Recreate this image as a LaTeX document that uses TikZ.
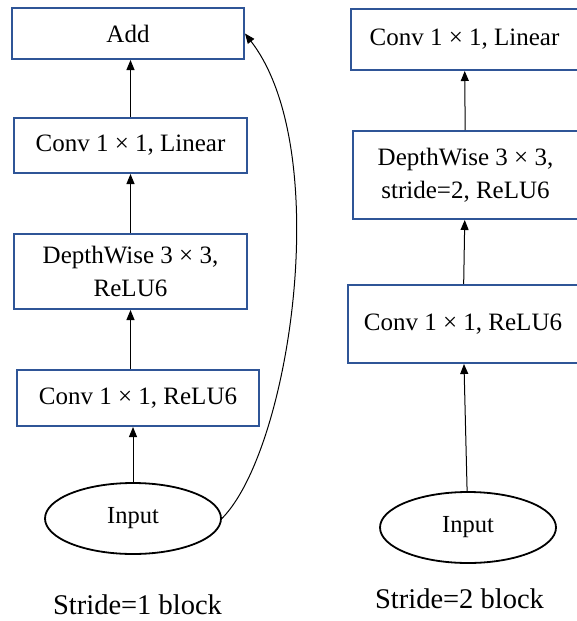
\documentclass[tikz,border=0pt]{standalone}
\usepackage{fontspec}
\setmainfont{Liberation Serif}
\usetikzlibrary{arrows.meta,shapes.geometric}
\definecolor{boxblue}{HTML}{2F5597}
\begin{document}
\begin{tikzpicture}[x=1pt,y=-1pt,
  blk/.style={draw=boxblue,line width=2pt,rectangle,inner sep=0pt,align=center,
    font=\fontsize{25}{33}\selectfont},
  inp/.style={draw=black,line width=1.8pt,ellipse,inner sep=0pt,
    minimum width=176pt,minimum height=71pt,font=\fontsize{24.5}{30}\selectfont},
  arr/.style={line width=1pt,-{Triangle[length=10pt,width=8pt]}},
  captxt/.style={font=\fontsize{28.5}{34}\selectfont,inner sep=0pt}]
\useasboundingbox (0,0) rectangle (577,621);
% left block
\node[blk,minimum width=232pt,minimum height=51pt] (add) at (128,33.5) {Add};
\node[blk,minimum width=233pt,minimum height=55pt] (l4) at (130.5,145.5) {Conv 1 × 1, Linear};
\node[blk,minimum width=233pt,minimum height=75pt] (l3) at (130.5,271.5) {DepthWise 3 × 3,\\ReLU6};
\node[blk,minimum width=242pt,minimum height=56pt] (l2) at (138,398) {Conv 1 × 1, ReLU6};
\node[inp] (in1) at (133,518.5) {Input};
\node[captxt] (c1) at (137.5,605) {Stride=1 block};
\draw[arr] (l4.north) -- (add.south -| l4.north);
\draw[arr] (l3.north) -- (l4.south);
\draw[arr] (l2.north -| l3.south) -- (l3.south);
\draw[arr] (in1.north) -- (l2.south -| in1.north);
\draw[arr] (in1.east) .. controls (290,450) and (335,150) .. (add.east);
% right block
\node[blk,minimum width=227pt,minimum height=61pt] (r3) at (464.5,39.5) {Conv 1 × 1, Linear};
\node[blk,minimum width=225pt,minimum height=88pt] (r2) at (465.5,175) {DepthWise 3 × 3,\\stride=2, ReLU6};
\node[blk,minimum width=230pt,minimum height=78pt] (r1) at (463,324) {Conv 1 × 1, ReLU6};
\node[inp] (in2) at (468,527.5) {Input};
\node[captxt] (c2) at (459.5,599) {Stride=2 block};
\draw[arr] (in2) -- (r1);
\draw[arr] (r1) -- (r2);
\draw[arr] (r2) -- (r3);
\end{tikzpicture}
\end{document}
